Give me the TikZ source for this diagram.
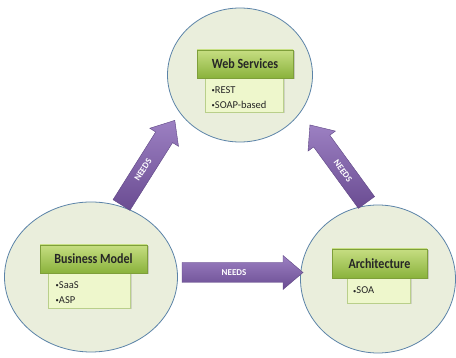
\documentclass[tikz,border=0pt]{standalone}
\usepackage{fontspec}
\setmainfont{Carlito}
\newfontfamily\hdrfont[FakeStretch=0.86]{Carlito}
\usetikzlibrary{shapes.geometric,shadows}
\definecolor{circfill}{HTML}{EAEEDC}
\definecolor{circline}{HTML}{5B83A8}
\definecolor{hdrtop}{HTML}{C6DE82}
\definecolor{hdrbot}{HTML}{8AB23C}
\definecolor{hdrline}{HTML}{7E9F3A}
\definecolor{bodyfill}{HTML}{EEF7CC}
\definecolor{bodyline}{HTML}{B9CF8A}
\definecolor{arrtop}{HTML}{9C80C2}
\definecolor{arrbot}{HTML}{6A4C92}
\definecolor{arrline}{HTML}{5E4684}
\newcommand\smallbullet{{\fontsize{6.5}{6.5}\selectfont\raisebox{0.8pt}{•}}}
\tikzset{
 circ/.style={ellipse, draw=circline, fill=circfill, line width=0.8pt, inner sep=0pt},
 hdr/.style={rectangle, draw=hdrline, top color=hdrtop, bottom color=hdrbot, inner sep=0pt,
   font=\hdrfont\fontsize{14}{16}\selectfont\bfseries, text=black!85,
   drop shadow={opacity=0.35, shadow xshift=1.5pt, shadow yshift=-1.5pt}},
 bodybox/.style={rectangle, draw=bodyline, fill=bodyfill, inner sep=0pt,
   drop shadow={opacity=0.25, shadow xshift=1.5pt, shadow yshift=-1.5pt}},
 bul/.style={anchor=base west, inner sep=0pt, text=black!85,
   font=\fontsize{10.5}{12}\selectfont},
 arrbody/.style={top color=arrtop, bottom color=arrbot, draw=arrline, line width=0.4pt, line join=miter},
 needstext/.style={inner sep=0pt, text=white, font=\fontsize{9}{10}\selectfont\bfseries}
}
% #1 tail point, #2 angle, #3 length
\newcommand\needsarrow[3]{%
 \begin{scope}[shift={#1}, rotate=#2]
  \path[arrbody] (0,-10) -- ({#3-20},-10) -- ({#3-20},-17) -- (#3,0) -- ({#3-20},17)
     -- ({#3-20},10) -- (0,10) -- cycle;
 \end{scope}}
\begin{document}
\begin{tikzpicture}[x=1pt,y=-1pt]
\useasboundingbox (0,0) rectangle (456,358);
% circles
\node[circ, minimum width=145pt, minimum height=134pt] (ws) at (240,75) {};
\node[circ, minimum width=173pt, minimum height=150pt] (bm) at (91,277) {};
\node[circ, minimum width=155pt, minimum height=148pt] (ar) at (378,279) {};
% arrows
\needsarrow{(182,272.5)}{0}{121}
\needsarrow{(121.5,205)}{57.8}{100}
\needsarrow{(366.5,202.5)}{126.1}{96}
\node[needstext] (n1) at (234,272.5) {NEEDS};
\node[needstext, rotate=57.8] (n2) at (143,170) {NEEDS};
\node[needstext, rotate=-53.9] (n3) at (343,171) {NEEDS};
% Web Services
\node[bodybox, minimum width=78pt, minimum height=34pt] (wsb) at (244,95) {};
\node[hdr, minimum width=96pt, minimum height=28pt] (wsh) at (245,64) {Web Services};
\node[bul] (wst1) at (211.5,93.7) {\smallbullet REST};
\node[bul] (wst2) at (211.5,108.7) {\smallbullet SOAP-based};
% Business Model
\node[bodybox, minimum width=82pt, minimum height=35pt] (bmb) at (89,290.5) {};
\node[hdr, minimum width=107pt, minimum height=28pt] (bmh) at (93.5,259) {Business Model};
\node[bul] (bmt1) at (55.5,288.7) {\smallbullet SaaS};
\node[bul] (bmt2) at (55.5,303.7) {\smallbullet ASP};
% Architecture
\node[bodybox, minimum width=63pt, minimum height=25pt] (arb) at (378.5,290.5) {};
\node[hdr, minimum width=95pt, minimum height=29pt] (arh) at (379.5,263.5) {Architecture};
\node[bul] (art1) at (353,294) {\smallbullet SOA};
\end{tikzpicture}
\end{document}
